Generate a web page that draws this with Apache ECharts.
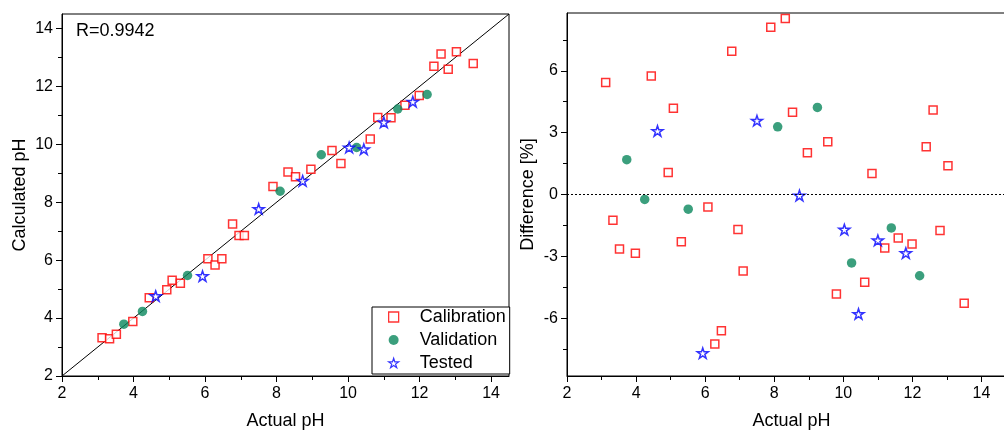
<!DOCTYPE html>
<html>
<head>
<meta charset="utf-8">
<script src="https://cdn.jsdelivr.net/npm/echarts@6/dist/echarts.min.js"></script>
<style>
html,body{margin:0;padding:0;background:#fff;}
#chart{width:1004px;height:433px;}
</style>
</head>
<body>
<div id="chart"></div>
<script>
// ---- data ----
const calActual = [3.12,3.33,3.52,3.98,4.44,4.93,5.08,5.31,6.08,6.28,6.47,6.77,6.95,7.10,7.90,8.32,8.53,8.96,9.55,9.80,10.62,10.83,11.20,11.59,11.99,12.40,12.60,12.80,13.03,13.50];
const calCalculated = [3.32,3.29,3.44,3.88,4.70,4.98,5.31,5.20,6.05,5.83,6.05,7.25,6.85,6.85,8.54,9.04,8.88,9.14,9.79,9.34,10.18,10.93,10.92,11.35,11.69,12.70,13.12,12.59,13.20,12.79];
const calDiff = [5.43,-1.25,-2.64,-2.85,5.74,1.07,4.18,-2.29,-0.60,-7.25,-6.60,6.94,-1.70,-3.71,8.11,8.53,3.99,2.03,2.56,-4.83,-4.25,1.02,-2.59,-2.11,-2.40,2.32,4.10,-1.75,1.39,-5.27];

const valActual = [3.73,4.25,5.51,8.10,9.25,10.24,11.39,12.21];
const valCalculated = [3.79,4.23,5.47,8.38,9.64,9.89,11.22,11.72];
const valDiff = [1.69,-0.24,-0.71,3.28,4.22,-3.32,-1.62,-3.94];

const tstActual = [4.62,5.93,7.50,8.73,10.03,10.44,11.00,11.81];
const tstCalculated = [4.76,5.45,7.77,8.74,9.89,9.83,10.76,11.47];
const tstDiff = [3.08,-7.69,3.58,-0.05,-1.70,-5.79,-2.22,-2.84];

const diagonal = [2, 14.5];
const zeroLine = 0;
const rText = 'R=0.9942';
const legendNames = ['Calibration','Validation','Tested'];

const xMajor = [2,4,6,8,10,12,14];
const xMinor = [3,5,7,9,11,13];
const yLeftMajor = [2,4,6,8,10,12,14];
const yLeftMinor = [3,5,7,9,11,13];
const yRightMajor = [-6,-3,0,3,6];
const yRightMinor = [-7.5,-4.5,-1.5,1.5,4.5,7.5];

// ---- chart ----
const FONT = '"Liberation Sans", Arial, sans-serif';
const zip = (a, b) => a.map((v, i) => [v, b[i]]);
const starPath = 'path://M50 0 L61.23 34.55 L97.55 34.55 L68.16 55.9 L79.39 90.45 L50 69.1 L20.61 90.45 L31.84 55.9 L2.45 34.55 L38.77 34.55 Z';

function majorAxis(gridIndex, min, max, ticks, name, nameGap, isY, pos) {
  return {
    type: 'value', gridIndex, min, max, position: pos,
    name, nameLocation: 'middle', nameGap,
    nameTextStyle: {fontFamily: FONT, fontSize: 18, color: '#000'},
    axisLine: {show: true, onZero: false, lineStyle: {color: '#000', width: 1}},
    axisTick: {show: true, inside: false, length: 6, customValues: ticks, lineStyle: {color: '#000', width: 1}},
    axisLabel: {show: true, customValues: ticks, margin: isY ? 9 : 10, fontFamily: FONT, fontSize: 16, color: '#000'},
    splitLine: {show: false}
  };
}
function minorAxis(gridIndex, min, max, ticks, pos) {
  return {
    type: 'value', gridIndex, min, max, position: pos,
    axisLine: {show: false, onZero: false},
    axisTick: {show: true, inside: false, length: 4, customValues: ticks, lineStyle: {color: '#000', width: 1}},
    axisLabel: {show: false},
    splitLine: {show: false}
  };
}

const calItem = {color: '#fff', borderColor: '#ff0000', borderWidth: 1.5};
const valItem = {color: '#0a875c', borderWidth: 0};
const tstItem = {color: '#fff', borderColor: '#0000ff', borderWidth: 1.5};
const calStyle = {symbol: 'rect', symbolSize: 8, itemStyle: calItem};
const valStyle = {symbol: 'circle', symbolSize: 9.5, itemStyle: valItem};
const tstStyle = {symbol: starPath, symbolSize: 11, symbolKeepAspect: true, itemStyle: tstItem};

const chart = echarts.init(document.getElementById('chart'), null, {renderer: 'canvas'});
chart.setOption({
  animation: false,
  backgroundColor: '#fff',
  title: {text: rText, left: 76, top: 22, padding: 0,
    textStyle: {fontFamily: FONT, fontSize: 18, fontWeight: 'normal', color: '#000'}},
  grid: [
    {left: 62, top: 14, width: 447, height: 362, outerBoundsMode: 'none', show: true, borderColor: '#000', borderWidth: 1, backgroundColor: 'transparent'},
    {left: 567, top: 13, width: 449, height: 363, outerBoundsMode: 'none', show: true, borderColor: '#000', borderWidth: 1, backgroundColor: 'transparent'}
  ],
  xAxis: [
    majorAxis(0, 2, 14.5, xMajor, 'Actual pH', 36, false, 'bottom'),
    minorAxis(0, 2, 14.5, xMinor, 'bottom'),
    majorAxis(1, 2, 15, xMajor, 'Actual pH', 36, false, 'bottom'),
    minorAxis(1, 2, 15, xMinor, 'bottom')
  ],
  yAxis: [
    majorAxis(0, 2, 14.5, yLeftMajor, 'Calculated pH', 33, true, 'left'),
    minorAxis(0, 2, 14.5, yLeftMinor, 'left'),
    majorAxis(1, -8.8, 8.8, yRightMajor, 'Difference [%]', 30, true, 'left'),
    minorAxis(1, -8.8, 8.8, yRightMinor, 'left')
  ],
  legend: {
    data: [
      {name: legendNames[0], itemStyle: {color: '#fff', borderColor: '#ff0000', borderWidth: 1.3}},
      {name: legendNames[1], itemStyle: valItem},
      {name: legendNames[2], itemStyle: {color: '#fff', borderColor: '#0000ff', borderWidth: 1.2}}
    ],
    orient: 'vertical',
    left: 372, top: 307,
    padding: [0, 4, 1, 16],
    itemWidth: 10, itemHeight: 10, itemGap: 3,
    borderColor: '#000', borderWidth: 1, borderRadius: 0,
    backgroundColor: '#fff',
    textStyle: {fontFamily: FONT, fontSize: 18, color: '#000', lineHeight: 20, padding: [0, 0, 0, 16]}
  },
  series: [
    {type: 'line', xAxisIndex: 0, yAxisIndex: 0, data: [[diagonal[0], diagonal[0]], [diagonal[1], diagonal[1]]],
      symbol: 'none', silent: true, lineStyle: {color: '#000', width: 1}, z: 1},
    Object.assign({type: 'scatter', name: legendNames[0], xAxisIndex: 0, yAxisIndex: 0, data: zip(calActual, calCalculated), z: 3}, calStyle),
    Object.assign({type: 'scatter', name: legendNames[1], xAxisIndex: 0, yAxisIndex: 0, data: zip(valActual, valCalculated), z: 3}, valStyle),
    Object.assign({type: 'scatter', name: legendNames[2], xAxisIndex: 0, yAxisIndex: 0, data: zip(tstActual, tstCalculated), z: 4}, tstStyle),
    Object.assign({type: 'scatter', name: legendNames[0], xAxisIndex: 2, yAxisIndex: 2, data: zip(calActual, calDiff), z: 3,
      markLine: {silent: true, symbol: 'none', label: {show: false}, lineStyle: {color: '#000', width: 1, type: [2, 2]},
        data: [{yAxis: zeroLine}]}}, calStyle),
    Object.assign({type: 'scatter', name: legendNames[1], xAxisIndex: 2, yAxisIndex: 2, data: zip(valActual, valDiff), z: 3}, valStyle),
    Object.assign({type: 'scatter', name: legendNames[2], xAxisIndex: 2, yAxisIndex: 2, data: zip(tstActual, tstDiff), z: 4}, tstStyle)
  ]
});
</script>
</body>
</html>
